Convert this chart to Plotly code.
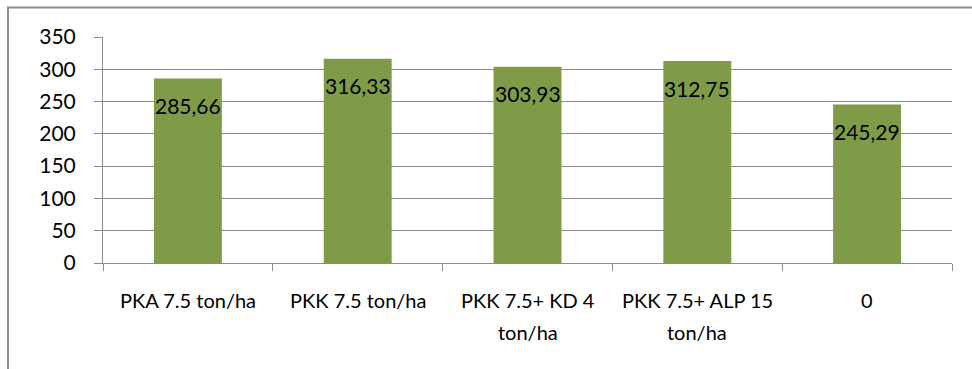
import plotly.graph_objects as go

# Treatments and measured values
cat_line1 = ["PKA 7.5 ton/ha", "PKK 7.5 ton/ha", "PKK 7.5+ KD 4",
             "PKK 7.5+ ALP 15", "0"]
cat_line2 = ["", "", "ton/ha", "ton/ha", ""]
values = [285.66, 316.33, 303.93, 312.75, 245.29]
value_labels = ["285,66", "316,33", "303,93", "312,75", "245,29"]
y_ticks = [0, 50, 100, 150, 200, 250, 300, 350]

W, H = 972, 369
ML, MR, MT, MB = 103, 20, 37, 106
FONT = "Lato"
GRID = "#8a8a8a"

idx = list(range(len(values)))

fig = go.Figure()
fig.add_trace(go.Bar(
    x=idx, y=values,
    marker=dict(color="#7F9B48", line=dict(width=0)),
    width=0.4, hoverinfo="skip",
))

# value labels sit just below the top of each bar
for i, v, t in zip(idx, values, value_labels):
    fig.add_annotation(x=i, y=v, text=t, showarrow=False, yanchor="middle",
                       yshift=-27, font=dict(family=FONT, size=21, color="black"))

# category labels, two lines with wide spacing
for i, l1, l2 in zip(idx, cat_line1, cat_line2):
    for txt, shift in ((l1, -37), (l2, -69)):
        if txt:
            fig.add_annotation(x=i, y=0, xref="x", yref="paper", text=txt,
                               showarrow=False, yanchor="middle", yshift=shift,
                               font=dict(family=FONT, size=20, color="black"))

# chart frame
pw, ph = W - ML - MR, H - MT - MB
def px_x(p):
    return (p - ML) / pw
def px_y(p):
    return (H - MB - p) / ph
fig.add_shape(type="rect", xref="paper", yref="paper",
              x0=px_x(8), x1=px_x(985), y0=px_y(390), y1=px_y(7.5),
              line=dict(color="#8c8c8c", width=2), fillcolor="rgba(0,0,0,0)",
              layer="below")

fig.update_layout(
    width=W, height=H,
    margin=dict(l=ML, r=MR, t=MT, b=MB),
    paper_bgcolor="white", plot_bgcolor="white",
    showlegend=False,
    font=dict(family=FONT, size=20, color="black"),
    xaxis=dict(
        range=[-0.5, len(values) - 0.5],
        tickvals=[i - 0.5 for i in idx] + [len(values) - 0.5],
        showticklabels=False,
        ticks="outside", ticklen=7, tickcolor=GRID,
        tickwidth=1, showline=True, linecolor=GRID, linewidth=1,
        showgrid=False, zeroline=False,
    ),
    yaxis=dict(
        range=[0, 350], tickvals=y_ticks, ticks="outside", ticklen=8,
        tickcolor=GRID, tickwidth=1, showline=True, linecolor=GRID,
        linewidth=1, showgrid=True, gridcolor=GRID, gridwidth=1,
        zeroline=False, ticklabelstandoff=14,
        tickfont=dict(family=FONT, size=21, color="black"),
    ),
)

fig.write_html("out.html")
